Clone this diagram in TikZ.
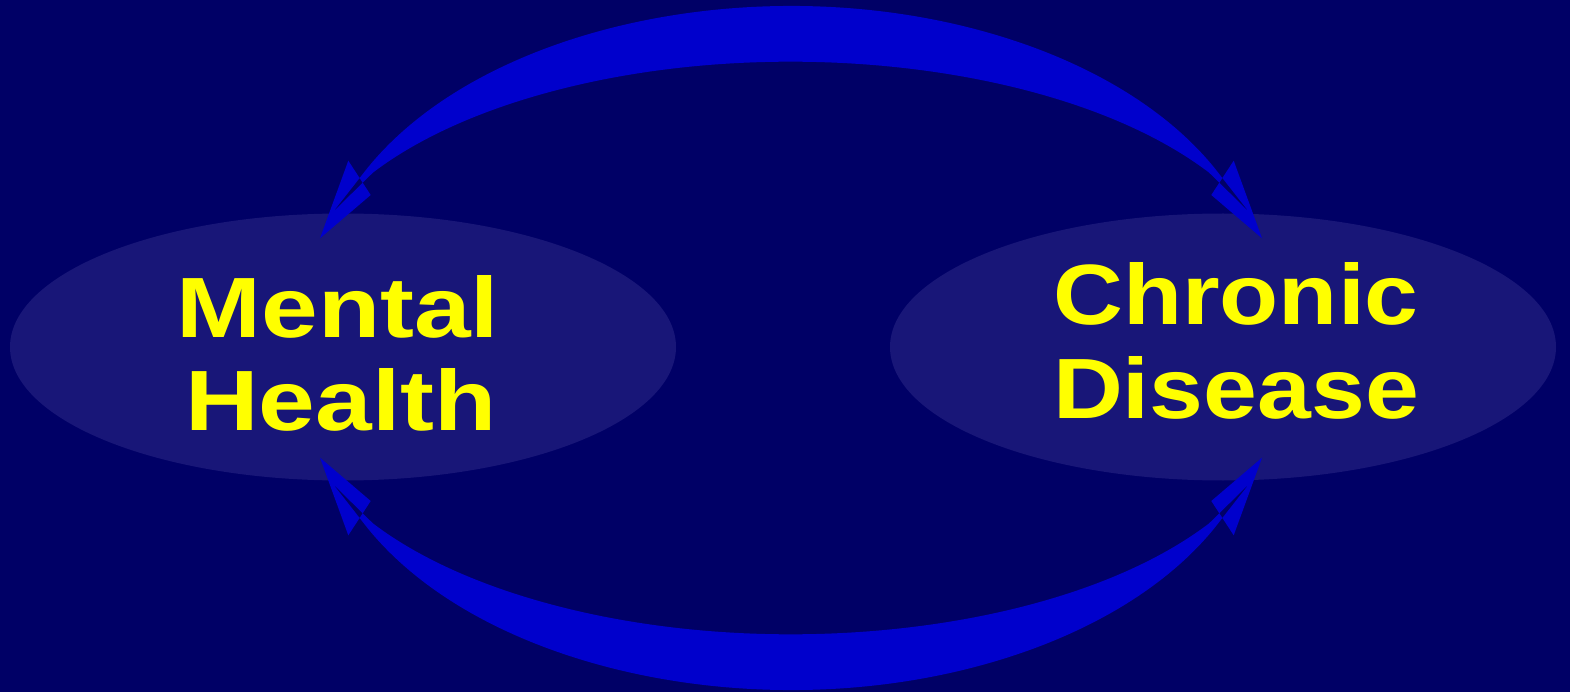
\documentclass[tikz,border=0pt]{standalone}
\usepackage{fontspec}
\usetikzlibrary{shapes.geometric}
\newfontfamily\lablft{Liberation Sans Bold}[FakeStretch=1.19]
\newfontfamily\labrgt{Liberation Sans Bold}[FakeStretch=1.13]
\definecolor{bgblue}{RGB}{0,0,102}
\definecolor{ellfill}{RGB}{24,22,120}
\definecolor{arrowblue}{RGB}{0,0,204}
\definecolor{txtyellow}{RGB}{255,255,0}
\begin{document}
\begin{tikzpicture}[x=0.5pt,y=0.5pt,
  bubble/.style={ellipse, fill=ellfill, draw=none, inner sep=0pt,
                 minimum width=333pt, minimum height=133.5pt},
  lbl/.style={text=txtyellow, inner sep=0pt, anchor=base},
  band/.style={fill=arrowblue, even odd rule}]
\fill[bgblue] (0,0) rectangle (1570,692);
\useasboundingbox (0,0) rectangle (1570,692);
% ellipses
\node[bubble] (mh) at (343,345) {};
\node[bubble] (cd) at (1223,345) {};
% text
\node[lbl] (t1) at (338,354.7) {\lablft\fontsize{42.8}{50}\selectfont Mental};
\node[lbl] (t2) at (341,262) {\lablft\fontsize{42.8}{50}\selectfont Health};
\node[lbl] (t3) at (1236,367) {\labrgt\fontsize{42.8}{50}\selectfont Chronic};
\node[lbl] (t4) at (1236,273.7) {\labrgt\fontsize{42.8}{50}\selectfont Disease};
% curved double arrows
\def\arrowshape{%
  \fill[band]
    (333,480) -- ([shift={(791,392)}]153.4:474 and 294)
      arc[start angle=153.4, end angle=26.6, x radius=474, y radius=294]
      -- (1249,480)
      -- ([shift={(791,392)}]32.3:494.7 and 238.3)
      arc[start angle=32.3, end angle=147.7, x radius=494.7, y radius=238.3]
      -- cycle
    (320,453.7) -- (348.3,531.3) -- (370.7,497) -- cycle
    (1262,453.7) -- (1233.7,531.3) -- (1211.3,497) -- cycle;}
\arrowshape
\begin{scope}[shift={(0,688)}, yscale=-1]
\arrowshape
\end{scope}
\end{tikzpicture}
\end{document}
